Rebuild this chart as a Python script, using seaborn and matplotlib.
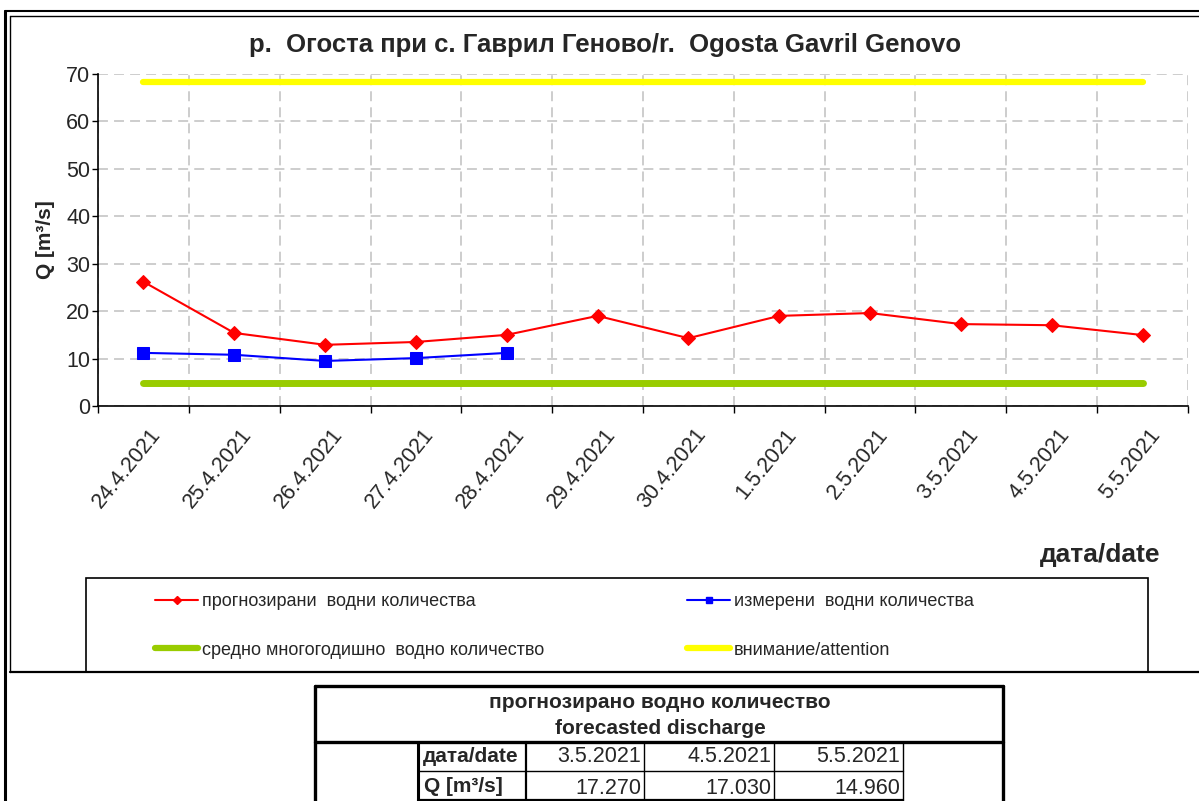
import numpy as np
import pandas as pd
import matplotlib
matplotlib.use("Agg")
import matplotlib.pyplot as plt
import matplotlib.transforms as mtransforms
from matplotlib.lines import Line2D
from matplotlib.patches import Rectangle
import seaborn as sns

# ---------------- data ----------------
dates = ["24.4.2021", "25.4.2021", "26.4.2021", "27.4.2021", "28.4.2021", "29.4.2021",
         "30.4.2021", "1.5.2021", "2.5.2021", "3.5.2021", "4.5.2021", "5.5.2021"]
forecast = [26.2, 15.4, 12.9, 13.5, 15.0, 19.0, 14.3, 19.0, 19.6, 17.27, 17.03, 14.96]
measured = [11.2, 10.8, 9.5, 10.1, 11.2]
mean_level = 4.85
attention_level = 68.3

title = "р.  Огоста при с. Гаврил Геново/r.  Ogosta Gavril Genovo"
lbl_forecast = "прогнозирани  водни количества"
lbl_measured = "измерени  водни количества"
lbl_mean = "средно многогодишно  водно количество"
lbl_attention = "внимание/attention"
table_title = ["прогнозирано водно количество", "forecasted discharge"]
table_dates = dates[-3:]
table_q = forecast[-3:]

# ---------------- style ----------------
sns.set_theme(style="white")
plt.rcParams['font.family'] = ['Liberation Sans', 'DejaVu Sans']

W, H = 1199, 801
fig = plt.figure(figsize=(W / 100, H / 100), dpi=100)
fig.patch.set_facecolor("white")


def fx(x):
    return x / W


def fy(y):
    return 1 - y / H


ax = fig.add_axes([fx(98), fy(406), fx(1188) - fx(98), fy(74) - fy(406)])
ax.set_facecolor("white")

df = pd.DataFrame({"idx": np.arange(len(dates)), "forecast": forecast,
                   "mean": np.full(len(dates), mean_level),
                   "attention": np.full(len(dates), attention_level)})
dm = pd.DataFrame({"idx": np.arange(len(measured)), "measured": measured})

sns.lineplot(data=df, x="idx", y="attention", ax=ax, color="#ffff00", lw=4.5, zorder=3)
sns.lineplot(data=df, x="idx", y="mean", ax=ax, color="#99cc00", lw=5, zorder=3)
sns.lineplot(data=df, x="idx", y="forecast", ax=ax, color="#ff0000", lw=1.5,
             marker="D", markersize=7, markeredgecolor="#ff0000", zorder=4)
sns.lineplot(data=dm, x="idx", y="measured", ax=ax, color="#0000ff", lw=1.5,
             marker="s", markersize=8, markeredgecolor="#0000ff", zorder=5)

ax.set_xlim(-0.5, len(dates) - 0.5)
ax.set_ylim(0, 70)
ax.set_yticks(np.arange(0, 71, 10))
ax.set_xticks(np.arange(len(dates)))
ax.set_xticks(np.arange(-0.5, len(dates), 1), minor=True)
ax.tick_params(axis="x", which="major", length=0, pad=18)
ax.tick_params(axis="x", which="minor", length=5, width=1, direction="out", color="black", bottom=True)
ax.tick_params(axis="y", length=4, width=1, direction="out", color="black", left=True, labelsize=15.5, pad=1.5)
ax.set_xticklabels(dates, rotation=51, ha="right", va="center", rotation_mode="anchor", fontsize=15.5)
offset = mtransforms.ScaledTranslation(14 / 100, 0, fig.dpi_scale_trans)
for lab in ax.get_xticklabels():
    lab.set_transform(lab.get_transform() + offset)

ax.grid(False)
gkw = dict(color="#c0c0c0", lw=1.1, linestyle=(0, (6.5, 4)))
ax.yaxis.grid(True, which="major", **gkw)
ax.xaxis.grid(True, which="minor", **gkw)
ax.set_axisbelow(True)

for s in ["top", "right"]:
    ax.spines[s].set_visible(False)
for s in ["left", "bottom"]:
    ax.spines[s].set_color("black")
    ax.spines[s].set_linewidth(1.2)

ax.set_xlabel("")
ax.set_ylabel("Q [m³/s]", fontsize=15, fontweight="bold", labelpad=8)

fig.text(fx(605), fy(45), title, ha="center", va="center", fontsize=18.5, fontweight="bold")
fig.text(fx(1160), fy(555), "дата/date", ha="right", va="center", fontsize=19, fontweight="bold")

# ---------------- legend ----------------
handles = [
    Line2D([], [], color="#ff0000", lw=1.5, marker="D", markersize=4),
    Line2D([], [], color="#99cc00", lw=4.5),
    Line2D([], [], color="#0000ff", lw=1.5, marker="s", markersize=5),
    Line2D([], [], color="#ffff00", lw=4.5),
]
labels = [lbl_forecast, lbl_mean, lbl_measured, lbl_attention]
fig.legend(handles, labels, loc="upper left", bbox_to_anchor=(fx(155), fy(593)), ncol=2,
           frameon=False, prop={"size": 13}, handlelength=2.4,
           handletextpad=0.2, labelspacing=1.75, columnspacing=7.9, borderaxespad=0, borderpad=0)
fig.add_artist(Rectangle((fx(86), fy(672)), fx(1148) - fx(86), fy(578) - fy(672),
                         transform=fig.transFigure, fill=False, ec="black", lw=1.2))

# ---------------- outer frame ----------------
def hline(y, x0, x1, lw):
    fig.add_artist(Line2D([fx(x0), fx(x1)], [fy(y), fy(y)], transform=fig.transFigure, color="black", lw=lw))


def vline(x, y0, y1, lw):
    fig.add_artist(Line2D([fx(x), fx(x)], [fy(y0), fy(y1)], transform=fig.transFigure, color="black", lw=lw))


hline(11, 5, 1199, 1.5)
hline(16, 10, 1199, 1.0)
vline(5, 11, 801, 2.2)
vline(10, 16, 672, 1.0)
hline(672, 10, 1199, 1.6)

# ---------------- table ----------------
tx0, tx1 = 315, 1003
hline(686, tx0, tx1, 2.4)
vline(tx0, 686, 801, 2.4)
vline(tx1, 686, 801, 2.4)
hline(742, tx0, tx1, 2.4)
vline(418, 742, 801, 2.2)
vline(526, 742, 801, 1.6)
for xv in [644, 774, 903]:
    vline(xv, 742, 801, 1.0)
hline(771, 418, 903, 1.0)
hline(800, 418, 903, 1.6)

fig.text(fx(660), fy(702), table_title[0], ha="center", va="center", fontsize=15,
         fontweight="bold")
fig.text(fx(660), fy(728), table_title[1], ha="center", va="center", fontsize=15,
         fontweight="bold")
fig.text(fx(423), fy(757), "дата/date", ha="left", va="center", fontsize=15,
         fontweight="bold")
fig.text(fx(424), fy(786), "Q [m³/s]", ha="left", va="center", fontsize=15,
         fontweight="bold")
for xr, d, q in zip([641, 771, 900], table_dates, table_q):
    fig.text(fx(xr), fy(757), d, ha="right", va="center", fontsize=15.5)
    fig.text(fx(xr), fy(788), f"{q:.3f}", ha="right", va="center", fontsize=15.5)

fig.savefig("out.png", dpi=100, facecolor="white")
